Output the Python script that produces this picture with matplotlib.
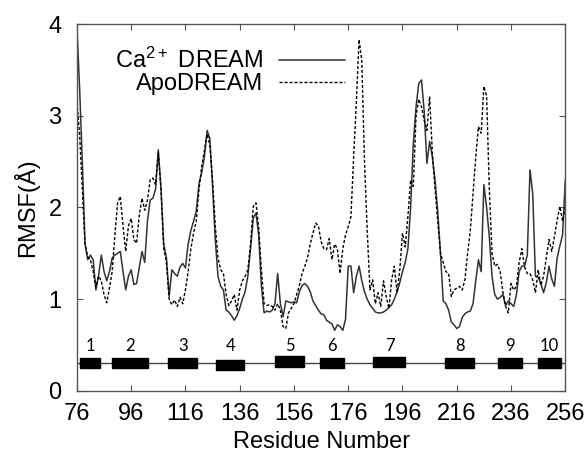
import numpy as np
import matplotlib
matplotlib.use("Agg")
import matplotlib.pyplot as plt

plt.rcParams["font.family"] = ["Liberation Sans", "DejaVu Sans"]
plt.rcParams["mathtext.default"] = "regular"

# residues 76..256
residues = np.arange(76, 257)

ca_dream = [
    3.97, 3.30, 2.50, 1.60, 1.43, 1.48, 1.43, 1.10, 1.26, 1.48,
    1.30, 1.20, 1.30, 1.45, 1.48, 1.50, 1.52, 1.30, 1.10, 1.25,
    1.32, 1.16, 1.17, 1.35, 1.52, 1.40, 1.85, 2.08, 2.10, 2.20,
    2.63, 2.20, 1.60, 1.45, 1.03, 1.32, 1.28, 1.25, 1.35, 1.39,
    1.34, 1.60, 1.75, 1.85, 1.96, 2.26, 2.38, 2.55, 2.84, 2.75,
    2.23, 1.65, 1.25, 1.14, 1.10, 0.88, 0.86, 0.82, 0.77, 0.82,
    0.90, 1.00, 1.08, 1.25, 1.55, 1.88, 1.94, 1.70, 1.14, 0.85,
    0.87, 0.86, 0.88, 0.95, 1.28, 0.95, 0.81, 0.98, 0.97, 0.96,
    0.97, 0.96, 1.08, 1.15, 1.17, 1.14, 1.08, 0.98, 0.93, 0.88,
    0.84, 0.83, 0.77, 0.75, 0.73, 0.66, 0.72, 0.70, 0.66, 0.78,
    1.36, 1.36, 1.07, 1.25, 1.36, 1.20, 1.08, 1.00, 0.94, 0.90,
    0.86, 0.85, 0.85, 0.86, 0.88, 0.91, 0.94, 1.00, 1.08, 1.18,
    1.30, 1.40, 1.55, 2.00, 2.70, 3.10, 3.35, 3.39, 3.05, 2.48,
    2.72, 2.55, 2.30, 1.95, 1.50, 0.98, 0.95, 0.88, 0.75, 0.72,
    0.68, 0.70, 0.80, 0.84, 0.86, 0.87, 0.95, 1.20, 1.43, 1.30,
    2.25, 2.00, 1.68, 1.25, 1.05, 1.00, 1.02, 1.05, 0.93, 0.98,
    0.95, 0.92, 1.05, 1.30, 1.36, 1.36, 1.48, 2.41, 2.15, 1.25,
    1.24, 1.17, 1.07, 1.18, 1.36, 1.22, 1.14, 1.45, 1.58, 1.70,
    2.30,
]

apo_dream = [
    3.15, 2.80, 2.20, 1.60, 1.46, 1.43, 1.30, 1.13, 1.25, 1.20,
    1.05, 0.96, 1.12, 1.30, 1.70, 2.05, 2.12, 1.80, 1.52, 1.80,
    1.88, 1.65, 1.61, 1.92, 2.10, 1.97, 2.08, 2.30, 2.32, 2.25,
    2.60, 2.20, 1.55, 1.40, 1.00, 0.94, 0.99, 0.92, 1.02, 0.95,
    1.10, 1.30, 1.55, 1.72, 1.85, 2.20, 2.45, 2.62, 2.80, 2.68,
    2.30, 1.80, 1.45, 1.32, 1.28, 1.05, 0.93, 0.98, 1.05, 0.88,
    1.10, 1.20, 1.25, 1.32, 1.60, 2.01, 2.05, 1.78, 1.32, 0.95,
    0.93, 0.94, 0.92, 0.88, 0.95, 0.88, 0.70, 0.68, 0.85, 0.90,
    0.95, 1.05, 1.15, 1.28, 1.36, 1.45, 1.60, 1.72, 1.83, 1.80,
    1.63, 1.55, 1.54, 1.66, 1.43, 1.60, 1.55, 1.28, 1.55, 1.70,
    1.79, 1.90, 2.55, 3.15, 3.83, 3.60, 2.50, 1.75, 1.10, 1.21,
    0.95, 1.07, 0.92, 1.20, 1.03, 0.90, 1.21, 1.36, 1.07, 1.32,
    1.72, 1.57, 1.90, 2.30, 2.23, 3.00, 3.18, 3.10, 2.95, 2.84,
    3.21, 2.60, 2.20, 1.85, 1.50, 1.40, 1.30, 1.28, 1.03, 1.10,
    1.12, 1.14, 1.10, 1.21, 1.50, 1.75, 2.15, 2.55, 2.88, 2.81,
    3.32, 3.22, 2.20, 1.50, 1.36, 1.38, 1.30, 1.08, 0.92, 0.85,
    1.17, 1.10, 1.14, 1.40, 1.55, 1.35, 1.28, 1.28, 1.21, 1.07,
    1.32, 1.15, 1.25, 1.45, 1.65, 1.52, 1.68, 1.86, 2.01, 1.85,
    2.01,
]

# helix segments (residue start / end) and their labels
helix_start = [77.1, 88.8, 109.7, 127.3, 149.0, 165.6, 185.3, 211.7, 231.2, 245.8]
helix_end = [84.5, 102.1, 120.3, 137.7, 159.7, 174.4, 197.1, 222.4, 240.0, 254.5]
helix_y = [0.30, 0.30, 0.30, 0.28, 0.32, 0.30, 0.31, 0.30, 0.30, 0.30]
helix_labels = ["1", "2", "3", "4", "5", "6", "7", "8", "9", "10"]

xticks = np.arange(76, 257, 20)
yticks = [0, 1, 2, 3, 4]

fig = plt.figure(figsize=(5.87, 4.62), dpi=100)
ax = fig.add_axes([0.131, 0.154, 0.832, 0.794])

ax.plot(residues, ca_dream, color="#333333", lw=1.1, label="Ca$^{2+}$ DREAM")
ax.plot(residues, apo_dream, color="black", lw=1.0, linestyle=(0, (2.2, 1.4)),
        label="ApoDREAM")

# secondary structure track
ax.axhline(0.3, color="#444444", lw=1.0, zorder=1)
widths = [e - s for s, e in zip(helix_start, helix_end)]
ax.barh(helix_y, widths, left=helix_start, height=0.11, color="black",
        edgecolor="black", linewidth=1.0, zorder=3)
for s, e, lab in zip(helix_start, helix_end, helix_labels):
    ax.text((s + e) / 2, 0.49, lab, ha="center", va="center", fontsize=12,
            family=["Lato", "DejaVu Sans"])

ax.set_xlim(76, 256)
ax.set_ylim(0, 4)
ax.set_xticks(xticks)
ax.set_yticks(yticks)
ax.tick_params(direction="in", length=4, width=0.8, top=True, right=True,
               labelsize=17, color="#555555", pad=9)
ax.tick_params(axis="y", pad=11)
for sp in ax.spines.values():
    sp.set_color("#555555")
    sp.set_linewidth(1.0)

ax.set_xlabel("Residue Number", fontsize=17, labelpad=4)
ax.set_ylabel("RMSF(Å)", fontsize=17, labelpad=7)

ax.legend(loc="upper right", bbox_to_anchor=(0.549, 0.935), frameon=False,
          markerfirst=False, fontsize=17, handlelength=2.8, handletextpad=0.68,
          labelspacing=0.0, borderpad=0, borderaxespad=0)

fig.savefig("out.png", dpi=100)
